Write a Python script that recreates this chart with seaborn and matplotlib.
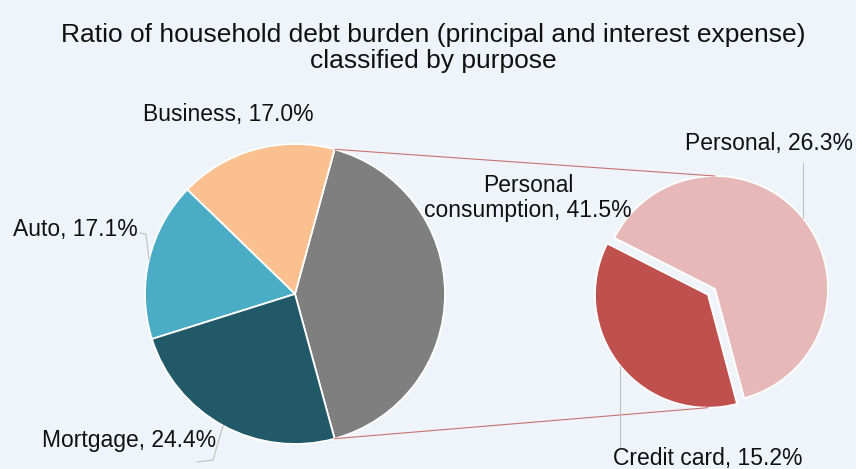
import numpy as np
import matplotlib
matplotlib.use("Agg")
import matplotlib.pyplot as plt
import seaborn as sns

# ---- data ----
title = "Ratio of household debt burden (principal and interest expense)\nclassified by purpose"
main_labels = ["Personal\nconsumption", "Business", "Auto", "Mortgage"]
main_values = [41.5, 17.0, 17.1, 24.4]
sub_labels = ["Personal", "Credit card"]
sub_values = [26.3, 15.2]

main_colors = ["#7F7F7F", "#FAC090", "#4BACC6", "#215968"]
sub_colors = ["#E6B9B8", "#C0504D"]

BG = "#EFF4FB"
sns.set_theme(style="white", rc={"figure.facecolor": BG, "axes.facecolor": BG})
plt.rcParams["font.family"] = ["Liberation Sans", "DejaVu Sans"]

W, H = 856, 469
fig = plt.figure(figsize=(W / 100, H / 100), dpi=100)
ax = fig.add_axes([0, 0, 1, 1])

def py(y):  # convert image row to axis y
    return H - y

# main pie
c1, r1 = (295, py(294)), 150
pal1 = sns.color_palette(main_colors)
w1, _ = ax.pie(main_values, colors=pal1, startangle=-main_values[0] / 100 * 180,
               radius=r1, center=c1, counterclock=True,
               wedgeprops=dict(edgecolor="white", linewidth=1.3))

# sub pie
c2, r2 = (715, py(289)), 113
pal2 = sns.color_palette(sub_colors)
frac0 = sub_values[0] / sum(sub_values)
w2, _ = ax.pie(sub_values, colors=pal2, startangle=39 - frac0 * 180,
               radius=r2, center=c2, explode=[0, 0.08 * r2],
               wedgeprops=dict(edgecolor="white", linewidth=1.3))

ax.set_xlim(0, W)
ax.set_ylim(0, H)
ax.set_aspect("equal")
ax.axis("off")

def rim(w, ang):
    a = np.deg2rad(ang)
    cx, cy = w.center
    return cx + w.r * np.cos(a), cy + w.r * np.sin(a)

# connector lines between pies
pc = w1[0]
top_l = rim(pc, pc.theta2)
bot_l = rim(pc, pc.theta1)
top_r = rim(w2[0], 90)
bot_r = rim(w2[1], 270)
lc = "#C0504D"
ax.plot([top_l[0], top_r[0]], [top_l[1], top_r[1]], color=lc, lw=0.8, alpha=0.8)
ax.plot([bot_l[0], bot_r[0]], [bot_l[1], bot_r[1]], color=lc, lw=0.8, alpha=0.8)

# title
fig.text(433 / W, 1 - 48 / H, title, ha="center", va="center", fontsize=19,
         linespacing=1.15, color="#111111")

fs = 16.5
tc = "#111111"
gc = "#BFBFBF"

def mid(w):
    return (w.theta1 + w.theta2) / 2

# Business label (no leader)
ax.text(228, py(114), f"{main_labels[1]}, {main_values[1]:.1f}%", ha="center", va="center", fontsize=fs, color=tc)

# Auto
p = rim(w1[2], mid(w1[2]))
ax.plot([p[0], 146, 140], [p[1], py(234), py(233)], color=gc, lw=0.8)
ax.text(138, py(229), f"{main_labels[2]}, {main_values[2]:.1f}%", ha="right", va="center", fontsize=fs, color=tc)

# Mortgage
p = rim(w1[3], mid(w1[3]))
ax.plot([p[0], 213, 197], [p[1], py(460), py(462)], color=gc, lw=0.8)
ax.text(216, py(440), f"{main_labels[3]}, {main_values[3]:.1f}%", ha="right", va="center", fontsize=fs, color=tc)

# Personal consumption
ax.text(528, py(198), f"{main_labels[0]}, {main_values[0]:.1f}%", ha="center", va="center",
        fontsize=fs, color=tc, linespacing=1.15, multialignment="center")

# Personal
p = rim(w2[0], mid(w2[0]))
ax.plot([p[0], p[0]], [p[1], py(163)], color=gc, lw=0.8)
ax.text(769, py(143), f"{sub_labels[0]}, {sub_values[0]:.1f}%", ha="center", va="center", fontsize=fs, color=tc)

# Credit card
p = rim(w2[1], mid(w2[1]))
ax.plot([p[0], p[0]], [p[1], py(448)], color=gc, lw=0.8)
ax.text(708, py(458), f"{sub_labels[1]}, {sub_values[1]:.1f}%", ha="center", va="center", fontsize=fs, color=tc)

fig.savefig("out.png", dpi=100, facecolor=BG)
